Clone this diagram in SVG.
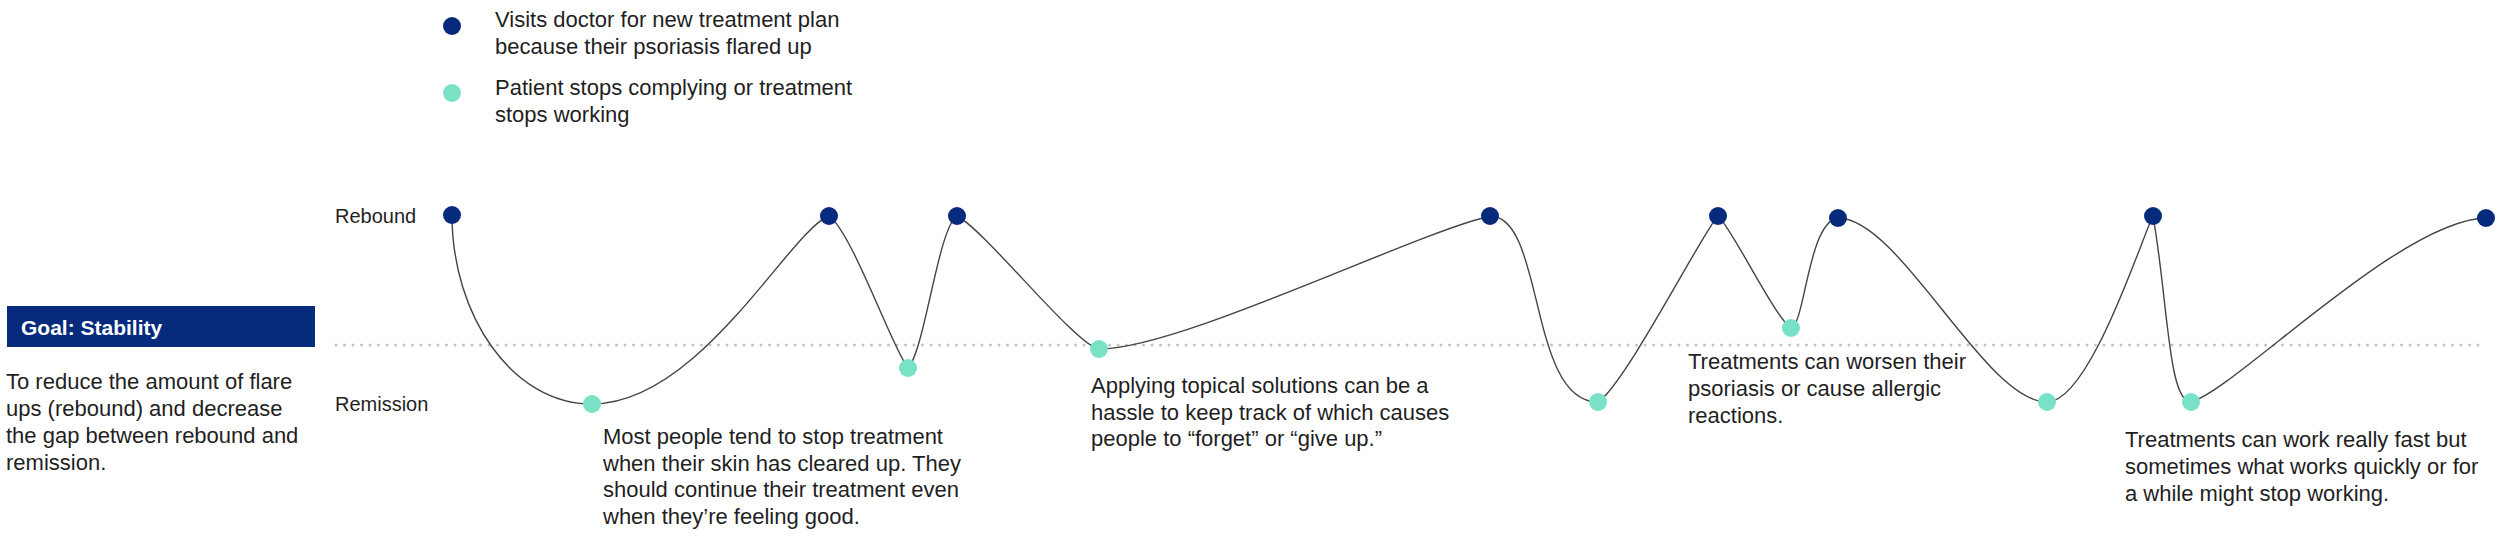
<svg xmlns="http://www.w3.org/2000/svg" width="2500" height="536" viewBox="0 0 2500 536">
  <style>
    .txt { font-family: "Liberation Sans", Arial, sans-serif; font-size: 22px; fill: #1f1f1f; }
    .axis { font-family: "Liberation Sans", Arial, sans-serif; font-size: 20px; fill: #1f1f1f; }
    .goal { font-family: "Liberation Sans", Arial, sans-serif; font-size: 21px; font-weight: bold; fill: #ffffff; }
    .flare { fill: #062b7d; }
    .stop { fill: #79e2c6; }
    .curve { fill: none; stroke: #444444; stroke-width: 1.4; }
    .base { fill: none; stroke: #c2c2c2; stroke-width: 3; stroke-linecap: round; stroke-dasharray: 0 8.5; }
  </style>
  <rect width="2500" height="536" fill="#ffffff"/>

  <g id="legend">
    <circle class="flare" cx="452" cy="26" r="9"/>
    <text class="txt" x="495" y="27">Visits doctor for new treatment plan</text>
    <text class="txt" x="495" y="54">because their psoriasis flared up</text>
    <circle class="stop" cx="452" cy="93" r="9"/>
    <text class="txt" x="495" y="95">Patient stops complying or treatment</text>
    <text class="txt" x="495" y="122">stops working</text>
  </g>

  <g id="goal">
    <rect x="7" y="306" width="308" height="41" fill="#062b7d"/>
    <text class="goal" x="21" y="335">Goal: Stability</text>
    <text class="txt" x="6" y="389">To reduce the amount of flare</text>
    <text class="txt" x="6" y="416">ups (rebound) and decrease</text>
    <text class="txt" x="6" y="443">the gap between rebound and</text>
    <text class="txt" x="6" y="470">remission.</text>
  </g>

  <g id="axis-labels">
    <text class="axis" x="335" y="223">Rebound</text>
    <text class="axis" x="335" y="411">Remission</text>
  </g>

  <g id="connectors">
    <line class="base" x1="336" y1="345" x2="2486" y2="345"/>
    <path class="curve" d="M452,215 C452,315 512,404 592,404
      C700,404 790,230 829,216
      C852,232 893,350 908,368
      C925,350 938,228 957,216
      C985,230 1075,345 1099,349
      C1180,349 1410,235 1490,216
      C1545,216 1528,402 1598,402
      C1625,385 1705,228 1718,216
      C1732,228 1775,318 1791,328
      C1805,325 1808,222 1838,218
      C1900,218 1985,402 2047,402
      C2090,402 2142,237 2153,216
      C2168,300 2168,402 2191,402
      C2235,390 2400,220 2486,218"/>
  </g>

  <g id="node-flare-1"><circle class="flare" cx="452" cy="215" r="9"/></g>
  <g id="node-stop-1"><circle class="stop" cx="592" cy="404" r="9"/></g>
  <g id="node-flare-2"><circle class="flare" cx="829" cy="216" r="9"/></g>
  <g id="node-stop-2"><circle class="stop" cx="908" cy="368" r="9"/></g>
  <g id="node-flare-3"><circle class="flare" cx="957" cy="216" r="9"/></g>
  <g id="node-stop-3"><circle class="stop" cx="1099" cy="349" r="9"/></g>
  <g id="node-flare-4"><circle class="flare" cx="1490" cy="216" r="9"/></g>
  <g id="node-stop-4"><circle class="stop" cx="1598" cy="402" r="9"/></g>
  <g id="node-flare-5"><circle class="flare" cx="1718" cy="216" r="9"/></g>
  <g id="node-stop-5"><circle class="stop" cx="1791" cy="328" r="9"/></g>
  <g id="node-flare-6"><circle class="flare" cx="1838" cy="218" r="9"/></g>
  <g id="node-stop-6"><circle class="stop" cx="2047" cy="402" r="9"/></g>
  <g id="node-flare-7"><circle class="flare" cx="2153" cy="216" r="9"/></g>
  <g id="node-stop-7"><circle class="stop" cx="2191" cy="402" r="9"/></g>
  <g id="node-flare-8"><circle class="flare" cx="2486" cy="218" r="9"/></g>

  <g id="note-1">
    <text class="txt" x="603" y="444">Most people tend to stop treatment</text>
    <text class="txt" x="603" y="471">when their skin has cleared up. They</text>
    <text class="txt" x="603" y="497">should continue their treatment even</text>
    <text class="txt" x="603" y="524">when they’re feeling good.</text>
  </g>
  <g id="note-2">
    <text class="txt" x="1091" y="393">Applying topical solutions can be a</text>
    <text class="txt" x="1091" y="420">hassle to keep track of which causes</text>
    <text class="txt" x="1091" y="446">people to “forget” or “give up.”</text>
  </g>
  <g id="note-3">
    <text class="txt" x="1688" y="369">Treatments can worsen their</text>
    <text class="txt" x="1688" y="396">psoriasis or cause allergic</text>
    <text class="txt" x="1688" y="423">reactions.</text>
  </g>
  <g id="note-4">
    <text class="txt" x="2125" y="447">Treatments can work really fast but</text>
    <text class="txt" x="2125" y="474">sometimes what works quickly or for</text>
    <text class="txt" x="2125" y="501">a while might stop working.</text>
  </g>
</svg>
